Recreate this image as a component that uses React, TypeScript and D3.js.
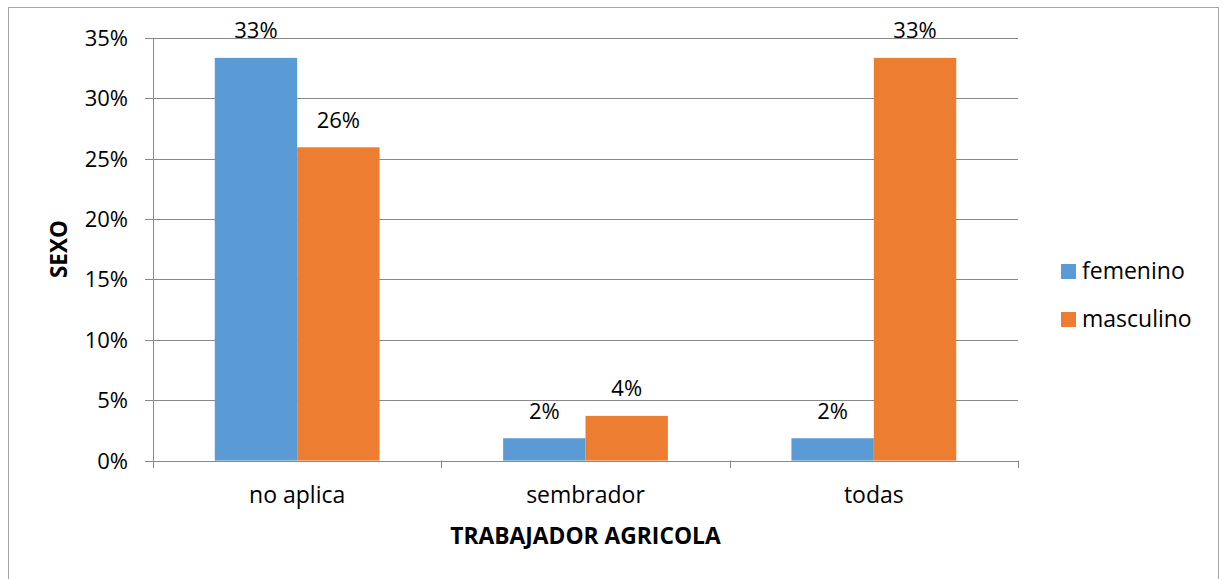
import React from "react";
import * as d3 from "d3";

const categories = ["no aplica", "sembrador", "todas"];
const seriesNames = ["femenino", "masculino"];
const femenino = [0.3333, 0.0185, 0.0185];
const masculino = [0.2593, 0.037, 0.3333];
const yTicks = [0, 0.05, 0.1, 0.15, 0.2, 0.25, 0.3, 0.35];
const colors = ["#5B9BD5", "#ED7D31"];

const W = 1223;
const H = 579;
const plot = { left: 153, right: 1018, top: 37.7, bottom: 460.6 };
const FONT = "'Open Sans', 'Liberation Sans', sans-serif";
const GRID = "#898989";

export default function App() {
  const x0 = d3
    .scaleBand<string>()
    .domain(categories)
    .range([plot.left, plot.right])
    .padding(0);
  const bw = x0.bandwidth();
  const barW = bw / 3.5;
  const x1 = d3
    .scaleBand<string>()
    .domain(seriesNames)
    .range([(bw - 2 * barW) / 2, (bw + 2 * barW) / 2])
    .padding(0);
  const y = d3.scaleLinear().domain([0, 0.35]).range([plot.bottom, plot.top]);
  const fmt = d3.format(".0%");
  const series = [femenino, masculino];
  const boundaries = [plot.left, ...categories.map((c) => (x0(c) as number) + bw)];

  return (
    <svg
      width={W}
      height={H}
      style={{ position: "absolute", left: 0, top: 0, background: "#fff" }}
      fontFamily={FONT}
    >
      <rect x={8.5} y={7.5} width={1210} height={600} fill="#fff" stroke="#A6A6A6" strokeWidth={1} />
      {/* gridlines */}
      {yTicks.map((t) => (
        <g key={t}>
          <line
            x1={plot.left - 8}
            x2={plot.right}
            y1={Math.round(y(t)) + 0.5}
            y2={Math.round(y(t)) + 0.5}
            stroke={GRID}
            strokeWidth={1}
          />
          <text x={128} y={y(t) + 8} textAnchor="end" fontSize={22} fill="#000">
            {fmt(t)}
          </text>
        </g>
      ))}
      {/* y axis line */}
      <line x1={plot.left + 0.5} x2={plot.left + 0.5} y1={plot.top} y2={plot.bottom} stroke={GRID} />
      {/* x ticks */}
      {boundaries.map((b, i) => (
        <line
          key={i}
          x1={Math.round(b) + 0.5}
          x2={Math.round(b) + 0.5}
          y1={plot.bottom}
          y2={plot.bottom + 7.5}
          stroke={GRID}
        />
      ))}
      {/* bars */}
      {series.map((vals, si) =>
        vals.map((v, ci) => {
          const bx = (x0(categories[ci]) as number) + (x1(seriesNames[si]) as number);
          return (
            <g key={`${si}-${ci}`}>
              <rect x={bx} y={y(v)} width={x1.bandwidth()} height={y(0) - y(v)} fill={colors[si]} />
              <text
                x={bx + x1.bandwidth() / 2}
                y={y(v) - 19.5}
                textAnchor="middle"
                fontSize={22}
                fill="#000"
              >
                {fmt(v)}
              </text>
            </g>
          );
        })
      )}
      {/* category labels */}
      {categories.map((c) => (
        <text
          key={c}
          x={(x0(c) as number) + bw / 2}
          y={503}
          textAnchor="middle"
          fontSize={23}
          fill="#000"
        >
          {c}
        </text>
      ))}
      {/* axis titles */}
      <text
        x={(plot.left + plot.right) / 2}
        y={544}
        textAnchor="middle"
        fontSize={22.8}
        fontWeight="bold"
        fill="#000"
      >
        TRABAJADOR AGRICOLA
      </text>
      <text
        transform={`translate(67, ${(plot.top + plot.bottom) / 2}) rotate(-90)`}
        textAnchor="middle"
        fontSize={22.5}
        fontWeight="bold"
        fill="#000"
      >
        SEXO
      </text>
      {/* legend */}
      {seriesNames.map((s, i) => (
        <g key={s} transform={`translate(1061, ${264 + i * 48})`}>
          <rect x={0} y={0} width={15} height={15} fill={colors[i]} />
          <text x={21} y={14.5} fontSize={23} fill="#000">
            {s}
          </text>
        </g>
      ))}
    </svg>
  );
}
